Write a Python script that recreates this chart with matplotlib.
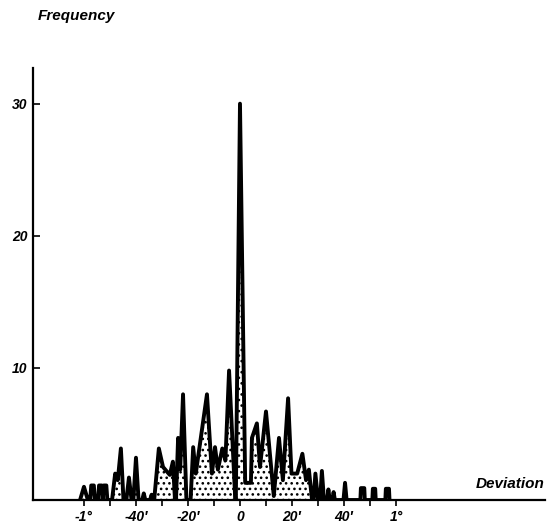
import matplotlib
matplotlib.use("Agg")
import matplotlib.pyplot as plt

plt.rcParams['font.family'] = ['Liberation Sans Narrow', 'Liberation Sans', 'DejaVu Sans']
plt.rcParams['hatch.linewidth'] = 1.1
plt.rcParams['hatch.color'] = 'black'

# outline of the frequency polygon: deviation (arc minutes) and frequency
deviation = [-61.5, -60, -58.5,
             -57.6, -57.2, -56.2, -55.8,
             -54.6, -54.2, -53.2, -52.8, -52.4, -51.4, -51,
             -49.2, -48, -47, -45.8, -44.8,
             -43.7, -42.7, -41.7, -41, -40, -39,
             -37.6, -37, -36.4, -34.6, -34, -33.4,
             -33, -31.2, -29.6, -27, -25.8, -25, -24.6, -23.8, -23, -21.9, -20.6,
             -19, -18, -17, -12.7, -10.8, -9.6, -8.5, -6.8, -5.6, -4.2, -1.8,
             -1.6, 0, 2.0, 4.2, 4.6, 6.5, 7.7, 10, 13, 15, 16.5, 18.5, 19.8,
             22, 24, 25.4, 26.5, 27.7, 28.3, 29, 30, 30.8, 31.5, 32.3,
             33.5, 34, 34.5, 35.5, 36, 36.5,
             39.8, 40.4, 41,
             46.3, 46.5, 47.8, 48.0,
             50.9, 51.1, 52.0, 52.2,
             55.9, 56.1, 57.3, 57.5]
frequency = [0, 1.0, 0,
             0, 1.1, 1.1, 0,
             0, 1.1, 1.1, 0, 1.1, 1.1, 0,
             0, 2.0, 1.5, 3.9, 0,
             0, 1.7, 0, 0, 3.2, 0,
             0, 0.5, 0, 0, 0.4, 0,
             0, 3.9, 2.5, 1.9, 2.9, 0, 0, 4.7, 2.3, 8.0, 0,
             0, 4.0, 2.0, 8.0, 2.0, 4.0, 2.3, 3.9, 3.0, 9.8, 0,
             0, 30, 1.3, 1.3, 4.7, 5.8, 2.5, 6.7, 0.3, 4.7, 1.5, 7.7, 2.0,
             2.0, 3.5, 1.5, 2.3, 0, 0, 2.0, 0, 0, 2.2, 0,
             0, 0.8, 0, 0, 0.6, 0,
             0, 1.3, 0,
             0, 0.9, 0.9, 0,
             0, 0.85, 0.85, 0,
             0, 0.85, 0.85, 0]

xticks_major = [-60, -40, -20, 0, 20, 40, 60]
xtick_labels = ['-1°', '-40′', '-20′', '0', '20′', '40′', '1°']
xticks_minor = [-50, -30, -10, 10, 30, 50]
yticks = [10, 20, 30]

fig = plt.figure(figsize=(5.53, 5.26), dpi=100)
ax = fig.add_axes([33 / 553, 26 / 526, 512 / 553, 432 / 526])

ax.fill_between(deviation, frequency, 0, facecolor='white', hatch='...',
                edgecolor='black', linewidth=0, zorder=2)
ax.plot(deviation, frequency, color='black', linewidth=2.8,
        solid_joinstyle='round', zorder=3)

ax.set_xlim(-79.6, 117.3)
ax.set_ylim(0, 32.7)

for s in ['top', 'right']:
    ax.spines[s].set_visible(False)
for s in ['left', 'bottom']:
    ax.spines[s].set_linewidth(1.6)

tfont = dict(style='italic', weight='bold', size=10)
ax.set_xticks(xticks_major)
ax.set_xticklabels(xtick_labels, **tfont)
ax.set_xticks(xticks_minor, minor=True)
ax.tick_params(axis='x', which='both', direction='out', length=4, width=1.2, pad=3)
ax.set_yticks(yticks)
ax.set_yticklabels([str(v) for v in yticks], **tfont)
ax.tick_params(axis='y', direction='in', length=5, width=1.2, pad=4)

fig.text(38 / 553, 1 - 16 / 526, 'Frequency', ha='left', va='center',
         style='italic', weight='bold', size=11)
fig.text(545 / 553, 1 - 484 / 526, 'Deviation', ha='right', va='center',
         style='italic', weight='bold', size=11)

fig.savefig('out.png', dpi=100)
